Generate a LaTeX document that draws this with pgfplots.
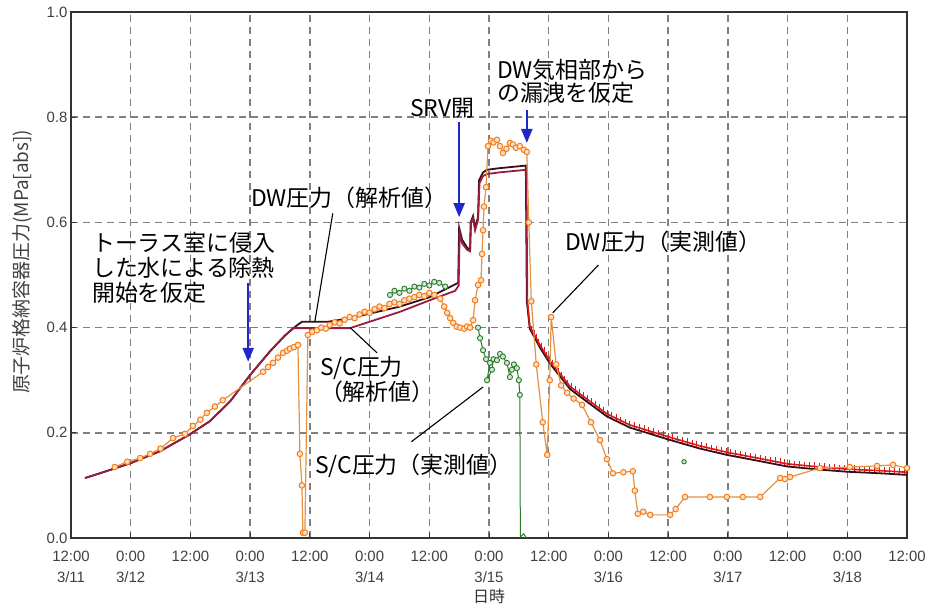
\documentclass[border=0pt]{standalone}
\usepackage{fontspec}
\setmainfont{Noto Sans CJK JP}
\newfontfamily\tickfont{Liberation Sans}
\usepackage{pgfplots}
\pgfplotsset{compat=1.18}
\usetikzlibrary{arrows.meta,decorations.markings}
\definecolor{dwana}{RGB}{55,15,25}
\definecolor{scana}{RGB}{150,30,60}
\definecolor{redt}{RGB}{215,25,25}
\definecolor{orl}{RGB}{228,145,65}
\definecolor{orm}{RGB}{245,125,25}
\definecolor{grl}{RGB}{40,125,40}
\definecolor{gridgray}{RGB}{128,128,128}
\definecolor{arrblue}{RGB}{30,40,200}
\begin{document}
\begin{tikzpicture}
\path[use as bounding box] (-71bp,-71bp) rectangle (868bp,538bp);
\begin{axis}[
  at={(0,0)}, anchor=south west, scale only axis,
  width=836bp, height=526bp,
  xmin=0, xmax=168, ymin=0, ymax=1,
  xtick={0,12,24,36,48,60,72,84,96,108,120,132,144,156,168},
  xticklabels={{12:00\\3/11},{0:00\\3/12},{12:00},{0:00\\3/13},{12:00},{0:00\\3/14},{12:00},{0:00\\3/15},{12:00},{0:00\\3/16},{12:00},{0:00\\3/17},{12:00},{0:00\\3/18},{12:00}},
  ytick={0,0.2,0.4,0.6,0.8,1.0},
  yticklabel style={/pgf/number format/.cd, fixed, fixed zerofill, precision=1},
  /pgf/number format/assume math mode=true,
  tick label style={font=\tickfont\fontsize{15}{21}\selectfont, text=black!75},
  xticklabel style={align=center, yshift=-10bp},
  grid=major,
  major grid style={gridgray, dash pattern=on 7bp off 5bp, line width=1.5bp},
  axis line style={line width=2bp, draw=black!80},
  tick style={line width=1bp, black!80},
  major tick length=5bp, tick align=inside, tick pos=left,
  xlabel={日時},
  xlabel style={at={(axis description cs:0.5,-0.112)}, anchor=center, font=\fontsize{16}{18}\selectfont, text=black!80},
  ylabel={原子炉格納容器圧力(MPa[abs])},
  ylabel style={at={(axis description cs:-0.0586,0.525)}, anchor=center, font=\fontsize{19}{21}\selectfont, text=black!75},
]
% DW analysis
\addplot[color=dwana, line width=1.8bp] table {
x y
2.8 0.114
5.8 0.123
11.9 0.142
17.9 0.165
23.7 0.196
27.9 0.222
32.0 0.260
36.0 0.310
40.0 0.355
43.0 0.385
45.5 0.405
46.4 0.411
51.6 0.411
56.1 0.418
66.1 0.440
72.1 0.458
77.8 0.485
78.0 0.590
78.6 0.567
79.6 0.552
80.2 0.548
80.3 0.600
80.8 0.612
81.2 0.590
81.8 0.610
82.0 0.680
82.8 0.695
83.6 0.700
86.0 0.703
91.4 0.708
91.6 0.450
92.2 0.398
94.3 0.361
96.3 0.331
100.3 0.283
105.7 0.245
107.7 0.231
112.3 0.210
119.8 0.188
126.4 0.170
131.8 0.158
138.5 0.146
143.9 0.136
150.5 0.130
155.9 0.126
162.6 0.123
168 0.120
};
% S/C analysis
\addplot[color=scana, line width=1.8bp] table {
x y
2.8 0.114
5.8 0.123
11.9 0.142
17.9 0.165
23.7 0.196
27.9 0.222
32.0 0.260
36.0 0.310
40.0 0.355
43.0 0.385
44.6 0.399
56.1 0.399
66.1 0.430
72.1 0.452
77.2 0.470
77.9 0.480
78.1 0.580
78.6 0.560
79.6 0.548
80.2 0.545
80.4 0.600
80.8 0.608
81.2 0.585
81.8 0.605
82.1 0.675
82.8 0.688
83.6 0.692
86.0 0.695
91.5 0.700
91.7 0.452
};
% S/C analysis tail (red with ticks)
\addplot[color=redt, line width=1.6bp,
  postaction={decorate, decoration={markings,
    mark=between positions 0 and 1 step 5bp with {\pgftransformresetnontranslations\draw[redt, line width=1bp] (0,-2bp)--(0,4bp);}}}] table {
x y
91.7 0.452
92.2 0.403
94.3 0.366
96.3 0.336
100.3 0.288
105.7 0.250
107.7 0.236
112.3 0.215
119.8 0.193
126.4 0.175
131.8 0.163
138.5 0.151
143.9 0.141
150.5 0.135
155.9 0.131
162.6 0.128
168 0.125
};
% DW measured
\addplot[color=orl, line width=1.2bp, mark=*, mark size=2.8bp,
  mark options={draw=orm, fill=orm!25, line width=1bp}] table {
x y
8.8 0.135
11.3 0.145
13.9 0.152
15.9 0.160
18.0 0.170
20.5 0.190
22.9 0.198
24.5 0.213
26.0 0.225
27.3 0.238
28.9 0.250
30.5 0.262
38.6 0.316
39.6 0.325
40.6 0.333
41.6 0.343
42.6 0.352
43.4 0.356
44.0 0.360
44.8 0.363
45.6 0.367
46.0 0.160
46.4 0.100
46.6 0.010
47.0 0.010
47.6 0.386
48.5 0.392
49.4 0.395
50.3 0.400
51.2 0.398
52.0 0.405
53.0 0.410
54.0 0.408
55.0 0.415
56.0 0.420
57.0 0.418
58.0 0.425
59.0 0.430
60.0 0.428
61.0 0.435
62.0 0.440
63.0 0.437
64.0 0.445
65.0 0.448
66.0 0.445
67.0 0.452
68.0 0.455
69.0 0.458
70.0 0.462
71.0 0.460
72.0 0.466
73.0 0.462
74.2 0.455
75.0 0.440
75.6 0.428
76.2 0.418
76.8 0.409
77.5 0.402
78.2 0.400
79.0 0.398
79.6 0.402
80.2 0.400
80.8 0.414
81.2 0.452
81.8 0.481
82.4 0.490
82.6 0.540
82.8 0.585
83.0 0.630
83.4 0.667
83.8 0.745
84.4 0.755
84.9 0.752
85.6 0.757
86.2 0.745
86.8 0.732
87.5 0.740
88.2 0.751
88.8 0.748
89.4 0.742
90.2 0.745
91.0 0.738
91.6 0.734
92.0 0.600
92.5 0.450
93.5 0.330
94.8 0.220
95.7 0.158
96.2 0.300
96.5 0.420
97.5 0.330
98.5 0.290
99.7 0.276
101.0 0.265
102.7 0.253
104.5 0.220
106.3 0.186
107.7 0.150
108.9 0.123
111.0 0.125
112.9 0.127
113.3 0.090
113.9 0.046
115.0 0.050
116.4 0.044
120.4 0.044
121.5 0.055
123.4 0.078
128.4 0.078
131.8 0.078
135.0 0.078
138.5 0.078
142.5 0.114
143.5 0.112
144.5 0.116
150.5 0.133
156.5 0.135
162.0 0.137
165.2 0.139
168.0 0.133
};
% S/C measured
\addplot[color=grl, line width=1bp, mark=*, mark size=2.6bp,
  mark options={draw=grl, fill=grl!20, line width=0.9bp}] table {
x y
64.1 0.462
65.0 0.470
66.0 0.466
67.0 0.474
68.0 0.470
69.0 0.478
70.0 0.476
71.0 0.483
72.0 0.480
73.0 0.487
74.0 0.485
75.2 0.478
};
\addplot[color=grl, line width=1bp, mark=*, mark size=2.6bp,
  mark options={draw=grl, fill=grl!20, line width=0.9bp}] table {
x y
81.8 0.400
82.2 0.380
82.8 0.357
83.4 0.340
84.2 0.333
83.6 0.300
84.6 0.320
84.9 0.340
85.6 0.338
86.2 0.350
86.8 0.345
87.6 0.333
88.2 0.306
88.6 0.320
89.0 0.330
89.6 0.323
90.0 0.300
90.2 0.272
};
\addplot[color=grl, line width=1bp] table {
x y
90.2 0.272
90.3 0.002
91.0 0.008
91.5 0.000
};
\addplot[only marks, mark=*, mark size=2.2bp, mark options={draw=grl, fill=grl!20, line width=0.9bp}] table {
x y
123.2 0.145
};
% arrows
\draw[arrblue, line width=2.2bp, -{Triangle[width=11bp,length=14bp]}] (axis cs:35.6,0.485) -- (axis cs:35.6,0.335);
\draw[arrblue, line width=2.2bp, -{Triangle[width=11bp,length=14bp]}] (axis cs:78.0,0.791) -- (axis cs:78.0,0.61);
\draw[arrblue, line width=2.2bp, -{Triangle[width=11bp,length=14bp]}] (axis cs:91.6,0.814) -- (axis cs:91.6,0.751);
% leaders
\draw[black, line width=1.1bp] (axis cs:52.6,0.617) -- (axis cs:49.0,0.411);
\draw[black, line width=1.1bp] (axis cs:56.1,0.40) -- (axis cs:61.5,0.352);
\draw[black, line width=1.1bp] (axis cs:68.4,0.183) -- (axis cs:82.8,0.287);
\draw[black, line width=1.1bp] (axis cs:106.0,0.519) -- (axis cs:96.8,0.428);
% labels
\node[anchor=west, align=left, font=\fontsize{23}{25}\selectfont, inner sep=0pt] at (axis cs:4.2,0.513) {トーラス室に侵入\\した水による除熱\\開始を仮定};
\node[anchor=center, font=\fontsize{23}{25}\selectfont, inner sep=0pt] at (axis cs:55.9,0.646) {DW圧力（解析値）};
\node[anchor=center, font=\fontsize{23}{25}\selectfont, inner sep=0pt] at (axis cs:74.6,0.816) {SRV開};
\node[anchor=west, align=left, font=\fontsize{23}{23}\selectfont, inner sep=0pt] at (axis cs:85.6,0.869) {DW気相部から\\の漏洩を仮定};
\node[anchor=west, align=left, font=\fontsize{23}{22}\selectfont, inner sep=0pt] at (axis cs:50.0,0.302) {S/C圧力\\（解析値）};
\node[anchor=west, font=\fontsize{23}{25}\selectfont, inner sep=0pt] at (axis cs:49.0,0.137) {S/C圧力（実測値）};
\node[anchor=west, font=\fontsize{23}{25}\selectfont, inner sep=0pt] at (axis cs:99.3,0.563) {DW圧力（実測値）};
\end{axis}
\end{tikzpicture}
\end{document}
